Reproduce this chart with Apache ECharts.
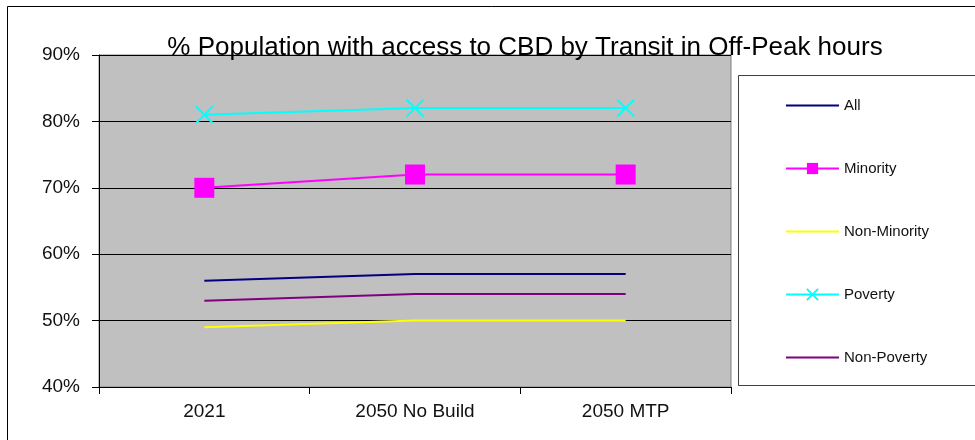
<!DOCTYPE html>
<html><head><meta charset="utf-8">
<script src="https://cdn.jsdelivr.net/npm/echarts@6/dist/echarts.min.js"></script>
<style>html,body{margin:0;padding:0;background:#fff}#c{width:975px;height:440px}</style>
</head><body><div id="c"></div>
<script>
var categories = ['2021', '2050 No Build', '2050 MTP'];
var seriesNames = ['All', 'Minority', 'Non-Minority', 'Poverty', 'Non-Poverty'];
var allVals = [56, 57, 57];
var minorityVals = [70, 72, 72];
var nonMinorityVals = [49, 50, 50];
var povertyVals = [81, 82, 82];
var nonPovertyVals = [53, 54, 54];
var yTicks = [40, 50, 60, 70, 80, 90];

var font = 'Liberation Sans, Arial, sans-serif';
var chart = echarts.init(document.getElementById('c'), null, {renderer: 'canvas'});
var cross = 'path://M0,0L10,10M10,0L0,10';
function line(name, data, color, extra) {
  var s = {
    name: name, type: 'line', data: data, symbol: 'none', animation: false,
    lineStyle: {color: color, width: 2}, itemStyle: {color: color}
  };
  for (var k in extra) s[k] = extra[k];
  return s;
}
var noSym = {opacity: 0};
chart.setOption({
  backgroundColor: '#fff',
  animation: false,
  title: {
    text: '% Population with access to CBD by Transit in Off-Peak hours',
    left: 520, top: 30, textAlign: 'center',
    textStyle: {fontFamily: font, fontSize: 26, fontWeight: 'normal', color: '#000'}
  },
  graphic: [
    {type: 'rect', shape: {x: 7.5, y: 6.5, width: 1000, height: 500}, style: {fill: 'none', stroke: '#000', lineWidth: 1}, z: -10},
    {type: 'rect', shape: {x: 738.5, y: 75.5, width: 300, height: 310}, style: {fill: '#fff', stroke: '#404040', lineWidth: 1}, z: -5}
  ],
  grid: {left: 99, right: 244, top: 55, bottom: 53, show: true, backgroundColor: '#C0C0C0', borderColor: '#808080', borderWidth: 1},
  legend: {
    orient: 'vertical', left: 785, top: 98, padding: 0,
    itemWidth: 53, itemHeight: 14, itemGap: 48,
    data: [
      {name: seriesNames[0], itemStyle: noSym},
      {name: seriesNames[1]},
      {name: seriesNames[2], itemStyle: noSym},
      {name: seriesNames[3]},
      {name: seriesNames[4], itemStyle: noSym}
    ],
    textStyle: {fontFamily: font, fontSize: 15, color: '#111'}
  },
  xAxis: {
    type: 'category', data: categories, boundaryGap: true,
    axisLine: {lineStyle: {color: '#000'}},
    axisTick: {show: true, length: 7, lineStyle: {color: '#000'}},
    axisLabel: {fontFamily: font, fontSize: 19, color: '#111', margin: 15}
  },
  yAxis: {
    type: 'value', min: yTicks[0], max: yTicks[yTicks.length - 1], interval: 10,
    axisLine: {show: true, lineStyle: {color: '#000'}},
    axisTick: {show: true, length: 7, lineStyle: {color: '#000'}},
    splitLine: {lineStyle: {color: '#000', width: 1}},
    axisLabel: {fontFamily: font, fontSize: 19, color: '#111', margin: 19, formatter: '{value}%'}
  },
  series: [
    line('All', allVals, '#000080', {}),
    line('Minority', minorityVals, '#FF00FF', {symbol: 'rect', symbolSize: 20, showSymbol: true}),
    line('Non-Minority', nonMinorityVals, '#FFFF00', {}),
    line('Poverty', povertyVals, '#00FFFF', {symbol: cross, symbolSize: 17, showSymbol: true,
      itemStyle: {color: '#00FFFF', borderColor: '#00FFFF', borderWidth: 2}}),
    line('Non-Poverty', nonPovertyVals, '#800080', {})
  ]
});
</script></body></html>
